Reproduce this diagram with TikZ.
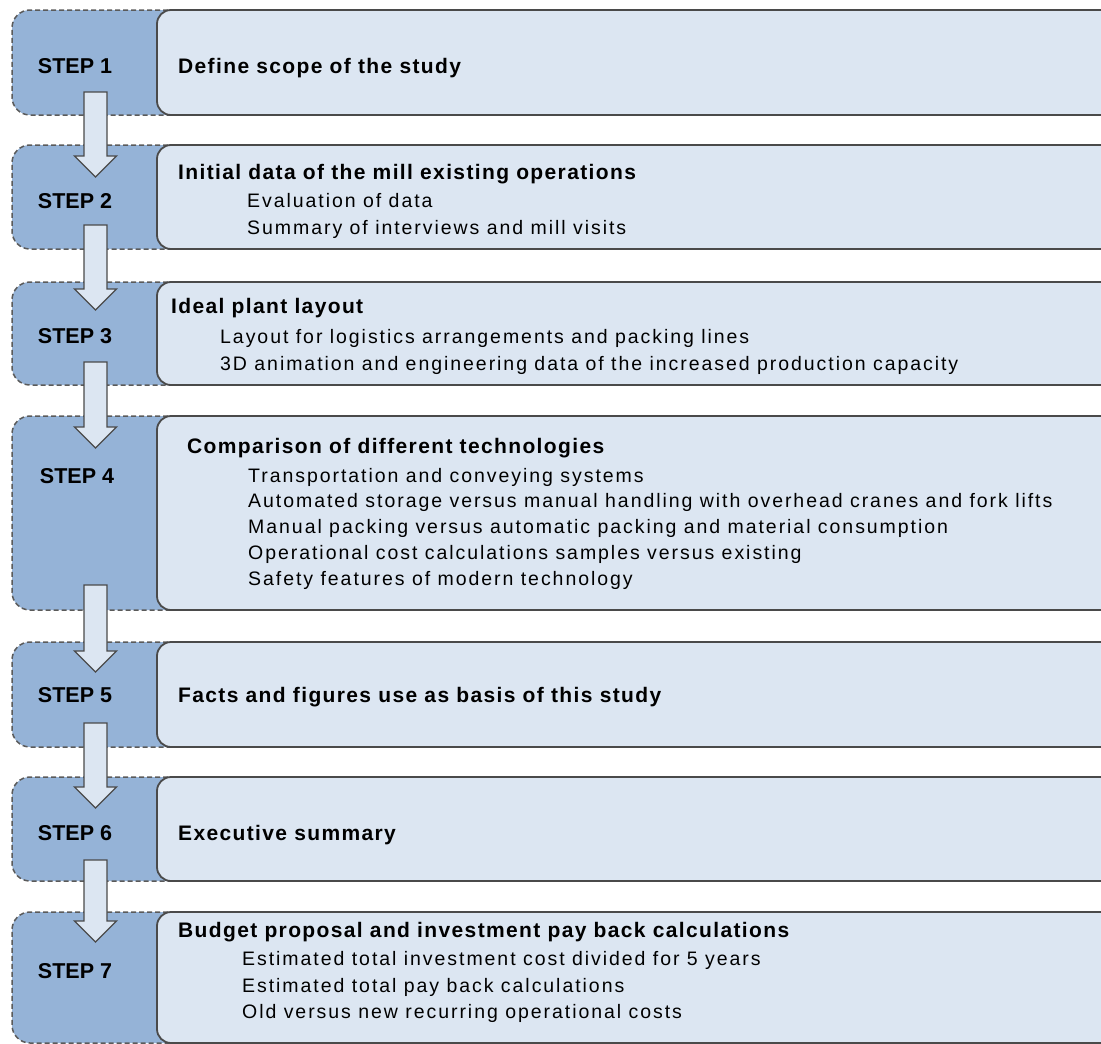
\documentclass[tikz,border=0pt]{standalone}
\usepackage{fontspec}
\usetikzlibrary{calc}
\setmainfont{Liberation Sans}
\newfontfamily\itemfont[LetterSpace=10]{Liberation Sans}
\newfontfamily\titlefont[LetterSpace=6.5]{Liberation Sans}
\definecolor{stepblue}{HTML}{95B3D7}
\definecolor{boxfill}{HTML}{DCE6F2}
\definecolor{dashgray}{HTML}{5A5A5A}
\definecolor{edgegray}{HTML}{4A4A4A}
\newcommand{\blockarr}[2]{%
  \draw[blockarrow] ($(#1)+(-11.5,0)$) -- ($(#2)+(-11.5,-21)$) -- ($(#2)+(-21,-21)$) -- (#2)
    -- ($(#2)+(21,-21)$) -- ($(#2)+(11.5,-21)$) -- ($(#1)+(11.5,0)$) -- cycle;}
\begin{document}
\begin{tikzpicture}[x=1pt,y=-1pt,
  bluebox/.style={draw=dashgray, fill=stepblue, dash pattern=on 5pt off 3pt, line width=1.5pt,
    rounded corners=18pt, anchor=north west, inner sep=0pt, outer sep=0pt, minimum width=190pt},
  whitebox/.style={draw=edgegray, fill=boxfill, line width=1.8pt, rounded corners=14pt,
    anchor=north west, inner sep=0pt, outer sep=0pt, minimum width=1000pt},
  steplabel/.style={font=\fontsize{21.5}{24}\selectfont\bfseries, anchor=base, inner sep=0pt},
  titletext/.style={font=\titlefont\fontsize{21}{24}\selectfont\bfseries, anchor=base west, inner sep=0pt},
  itemtext/.style={font=\itemfont\fontsize{19.5}{22}\selectfont, anchor=base west, inner sep=0pt},
  blockarrow/.style={draw=edgegray, fill=boxfill, line width=1.3pt, line join=miter}
]
\useasboundingbox (0,0) rectangle (1101,1044);
\clip (0,0) rectangle (1101,1044);

% step boxes
\node[bluebox, minimum height=105pt] (b1) at (12,10) {};
\node[whitebox, minimum height=105pt] (w1) at (157,10) {};
\node[bluebox, minimum height=104pt] (b2) at (12,145) {};
\node[whitebox, minimum height=104pt] (w2) at (157,145) {};
\node[bluebox, minimum height=103pt] (b3) at (12,282) {};
\node[whitebox, minimum height=103pt] (w3) at (157,282) {};
\node[bluebox, minimum height=194pt] (b4) at (12,416) {};
\node[whitebox, minimum height=194pt] (w4) at (157,416) {};
\node[bluebox, minimum height=105pt] (b5) at (12,642) {};
\node[whitebox, minimum height=105pt] (w5) at (157,642) {};
\node[bluebox, minimum height=104pt] (b6) at (12,777) {};
\node[whitebox, minimum height=104pt] (w6) at (157,777) {};
\node[bluebox, minimum height=131pt] (b7) at (12,912) {};
\node[whitebox, minimum height=131pt] (w7) at (157,912) {};

% arrows
\coordinate (a1s) at (95.5,92);  \coordinate (a1t) at (95.5,177);
\coordinate (a2s) at (95.5,225); \coordinate (a2t) at (95.5,310);
\coordinate (a3s) at (95.5,362); \coordinate (a3t) at (95.5,448);
\coordinate (a4s) at (95.5,585); \coordinate (a4t) at (95.5,672);
\coordinate (a5s) at (95.5,723); \coordinate (a5t) at (95.5,808);
\coordinate (a6s) at (95.5,860); \coordinate (a6t) at (95.5,942);
\blockarr{a1s}{a1t}
\blockarr{a2s}{a2t}
\blockarr{a3s}{a3t}
\blockarr{a4s}{a4t}
\blockarr{a5s}{a5t}
\blockarr{a6s}{a6t}

% step labels
\node[steplabel] (s1) at (75,73) {STEP 1};
\node[steplabel] (s2) at (75,208) {STEP 2};
\node[steplabel] (s3) at (75,343) {STEP 3};
\node[steplabel] (s4) at (77,483) {STEP 4};
\node[steplabel] (s5) at (75,702) {STEP 5};
\node[steplabel] (s6) at (75,840) {STEP 6};
\node[steplabel] (s7) at (75,978) {STEP 7};

% texts
\node[titletext] (t1) at (178,73) {Define scope of the study};

\node[titletext] (t2) at (178,179) {Initial data of the mill existing operations};
\node[itemtext] (t2a) at (247,207.5) {Evaluation of data};
\node[itemtext] (t2b) at (247,234) {Summary of interviews and mill visits};

\node[titletext] (t3) at (171,313) {Ideal plant layout};
\node[itemtext] (t3a) at (220,343) {Layout for logistics arrangements and packing lines};
\node[itemtext] (t3b) at (220,370) {3D animation and engineering data of the increased production capacity};

\node[titletext] (t4) at (187,453) {Comparison of different technologies};
\node[itemtext] (t4a) at (248,482) {Transportation and conveying systems};
\node[itemtext] (t4b) at (248,507.5) {Automated storage versus manual handling with overhead cranes and fork lifts};
\node[itemtext] (t4c) at (248,533) {Manual packing versus automatic packing and material consumption};
\node[itemtext] (t4d) at (248,559) {Operational cost calculations samples versus existing};
\node[itemtext] (t4e) at (248,585) {Safety features of modern technology};

\node[titletext] (t5) at (178,702) {Facts and figures use as basis of this study};

\node[titletext] (t6) at (178,840) {Executive summary};

\node[titletext] (t7) at (178,937) {Budget proposal and investment pay back calculations};
\node[itemtext] (t7a) at (242,965) {Estimated total investment cost divided for 5 years};
\node[itemtext] (t7b) at (242,992) {Estimated total pay back calculations};
\node[itemtext] (t7c) at (242,1018) {Old versus new recurring operational costs};
\end{tikzpicture}
\end{document}
